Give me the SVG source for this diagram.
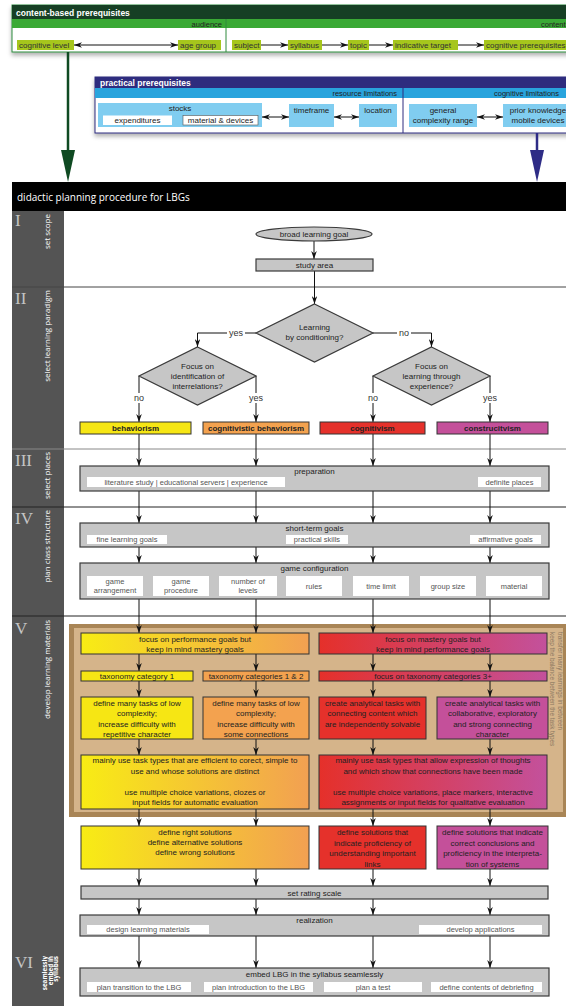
<svg xmlns="http://www.w3.org/2000/svg" width="566" height="1006" viewBox="0 0 566 1006">
<defs>
<style>
text{font-family:"Liberation Sans",Arial,sans-serif}
.t{font-size:8px;fill:#222;text-anchor:middle}
.ts{font-size:7.5px;fill:#555;text-anchor:middle}
.b{font-weight:bold}
.gray{fill:#c6c6c6;stroke:#3a3a3a;stroke-width:1.2}
.wb{fill:#fff}
.bx{stroke:#333;stroke-width:1}
.ln{fill:none;stroke:#111;stroke-width:1;marker-end:url(#ah)}
.ln2{fill:none;stroke:#111;stroke-width:1;marker-end:url(#ah);marker-start:url(#ah)}
.pl{fill:none;stroke:#111;stroke-width:1}
.side{font-family:"Open Sans",sans-serif;font-size:8px;fill:#fff;text-anchor:end}
.side2{font-family:"Open Sans",sans-serif;font-size:6.3px;font-weight:bold;fill:#fff;text-anchor:end}
.rn{font-family:"Liberation Serif",serif;font-size:17px;fill:#c4c4c4}
.hl{fill:#a6c61c}
.lb{fill:#80cdf0}
.lbl{font-size:9px;fill:#333;text-anchor:middle}
.it{font-size:8px;fill:#333}
</style>
<marker id="ah" viewBox="0 0 10 7" refX="10" refY="3.5" markerWidth="8" markerHeight="5.6" orient="auto-start-reverse" markerUnits="userSpaceOnUse"><path d="M0,0 L10,3.5 L0,7 L3,3.5 z" fill="#111"/></marker>
<filter id="sh" x="-5%" y="-20%" width="110%" height="160%"><feDropShadow dx="0" dy="3" stdDeviation="2" flood-color="#000" flood-opacity="0.3"/></filter>
<linearGradient id="gYO" x1="0" y1="0" x2="1" y2="0"><stop offset="0" stop-color="#f8ec14"/><stop offset="1" stop-color="#f2a052"/></linearGradient>
<linearGradient id="gRM" x1="0" y1="0" x2="1" y2="0"><stop offset="0" stop-color="#e5302a"/><stop offset="1" stop-color="#c3519c"/></linearGradient>
</defs>
<rect width="566" height="1006" fill="#fff"/>

<g id="content-prereq">
<rect x="12" y="5" width="560" height="47" fill="#fff" stroke="#2e8a3c" filter="url(#sh)"/>
<rect x="12" y="5" width="560" height="14" fill="#163f24"/>
<rect x="12" y="19" width="560" height="9" fill="#3aa935"/>
<line x1="226" y1="19" x2="226" y2="52" stroke="#2e8a3c"/>
<text x="16" y="15.5" font-size="8.5" font-weight="bold" fill="#fff">content-based prerequisites</text>
<text x="222" y="26.5" font-size="7.5" fill="#222" text-anchor="end">audience</text>
<text x="541" y="26.5" font-size="7.5" fill="#222">content</text>
<rect class="hl" x="17" y="40" width="57" height="10"/><text class="it" x="19" y="48">cognitive level</text>
<rect class="hl" x="178" y="40" width="43" height="10"/><text class="it" x="180" y="48">age group</text>
<rect class="hl" x="232" y="40" width="29" height="10"/><text class="it" x="234" y="48">subject</text>
<rect class="hl" x="288" y="40" width="34" height="10"/><text class="it" x="290" y="48">syllabus</text>
<rect class="hl" x="348" y="40" width="21" height="10"/><text class="it" x="350" y="48">topic</text>
<rect class="hl" x="393" y="40" width="65" height="10"/><text class="it" x="395" y="48">indicative target</text>
<rect class="hl" x="484" y="40" width="90" height="10"/><text class="it" x="486" y="48">cognitive prerequisites</text>
</g>

<g id="practical-prereq">
<rect x="95" y="77" width="480" height="56" fill="#fff" stroke="#2e2c7e" filter="url(#sh)"/>
<rect x="95" y="77" width="480" height="11" fill="#2e2c7e"/>
<rect x="95" y="88" width="480" height="10" fill="#29a4dd"/>
<line x1="403" y1="88" x2="403" y2="133" stroke="#2e2c7e"/>
<text x="100" y="86" font-size="8.5" font-weight="bold" fill="#fff">practical prerequisites</text>
<text x="397" y="96" font-size="7.5" fill="#222" text-anchor="end">resource limitations</text>
<text x="494" y="96" font-size="7.5" fill="#222">cognitive limitations</text>
<rect class="lb" x="98" y="103" width="164" height="24"/>
<text class="t" x="180" y="111" fill="#333">stocks</text>
<rect x="103" y="115.5" width="69" height="9.5" fill="#fff"/>
<text class="t" x="137.5" y="123">expenditures</text>
<rect x="183" y="115.5" width="75" height="9.5" fill="#fff" stroke="#555" stroke-width="0.6"/>
<text class="t" x="220.5" y="123">material &amp; devices</text>
<rect class="lb" x="289" y="104" width="45" height="23"/>
<text class="t" x="311.5" y="113">timeframe</text>
<rect class="lb" x="359" y="104" width="38" height="23"/>
<text class="t" x="378" y="113">location</text>
<rect class="lb" x="409" y="104" width="68" height="23"/>
<text class="t" x="443" y="113">general</text>
<text class="t" x="443" y="123">complexity range</text>
<rect class="lb" x="503" y="104" width="72" height="23"/>
<text class="t" x="538" y="113">prior knowledge</text>
<text class="t" x="538" y="123">mobile devices</text>
</g>

<g id="big-arrows">
<line x1="68" y1="52" x2="68" y2="152" stroke="#0f4a22" stroke-width="2.5"/>
<polygon points="61,150 75,150 68,182" fill="#0f4a22"/>
<line x1="537" y1="133" x2="537" y2="152" stroke="#2e2c86" stroke-width="2.5"/>
<polygon points="530,150 544,150 537,182" fill="#2e2c86"/>
</g>

<g id="frame">
<rect x="12" y="182" width="560" height="29" fill="#000"/>
<text x="17" y="201" font-family="Open Sans, sans-serif" font-size="10" fill="#fff" style="font-family:'Open Sans',sans-serif">didactic planning procedure for LBGs</text>
<rect x="12" y="211" width="52" height="795" fill="#545454"/>
<line x1="12" y1="287" x2="566" y2="287" stroke="#444"/>
<line x1="12" y1="449" x2="566" y2="449" stroke="#888"/>
<line x1="12" y1="507" x2="566" y2="507" stroke="#222"/>
<line x1="12" y1="616" x2="566" y2="616" stroke="#222"/>
<text class="rn" x="15" y="226">I</text>
<text class="rn" x="15" y="304">II</text>
<text class="rn" x="15" y="466">III</text>
<text class="rn" x="15" y="524">IV</text>
<text class="rn" x="15" y="634">V</text>
<text class="rn" x="15" y="968">VI</text>
<text class="side" transform="translate(50,214) rotate(-90)">set scope</text>
<text class="side" transform="translate(50,290) rotate(-90)">select learning paradigm</text>
<text class="side" transform="translate(50,452) rotate(-90)">select places</text>
<text class="side" transform="translate(50,510) rotate(-90)">plan class structure</text>
<text class="side" transform="translate(50,620) rotate(-90)">develop learning materials</text>
<text class="side2" transform="translate(47,956) rotate(-90)">seamlessly</text>
<text class="side2" transform="translate(52.5,956) rotate(-90)">embed in</text>
<text class="side2" transform="translate(58,956) rotate(-90)">syllabus</text>
</g>

<g id="brown-area">
<rect x="69" y="624" width="502" height="193" fill="#a98556"/>
<rect x="74" y="628" width="489" height="184" fill="#d5b48a"/>
<text transform="translate(550,632) rotate(90)" font-size="6.3" fill="#8a7760">keep the balance between the task types</text>
<text transform="translate(558,632) rotate(90)" font-size="6.3" fill="#8a7760">transfer many learnings in between</text>
</g>

<g id="connectors">
<line class="ln" x1="314" y1="241" x2="314" y2="259"/>
<line class="ln" x1="314.5" y1="271" x2="314.5" y2="304"/>
<polyline class="ln" points="256,333 197.5,333 197.5,347"/>
<polyline class="ln" points="373,333 431.5,333 431.5,347"/>
<line class="ln" x1="139" y1="376" x2="139" y2="422"/>
<line class="ln" x1="256" y1="376" x2="256" y2="422"/>
<line class="ln" x1="373" y1="376" x2="373" y2="422"/>
<line class="ln" x1="490" y1="376" x2="490" y2="422"/>
<line class="ln2" x1="74" y1="45" x2="178" y2="45"/>
<line class="ln" x1="261" y1="45" x2="288" y2="45"/>
<line class="ln" x1="322" y1="45" x2="348" y2="45"/>
<line class="ln" x1="369" y1="45" x2="393" y2="45"/>
<line class="ln" x1="458" y1="45" x2="484" y2="45"/>
<line class="ln2" x1="262" y1="117" x2="289" y2="117" stroke-width="1.5"/>
<line class="ln2" x1="334" y1="117" x2="359" y2="117" stroke-width="1.5"/>
<line class="ln2" x1="477" y1="117" x2="503" y2="117" stroke-width="1.5"/>
<line class="ln" x1="285" y1="482" x2="478" y2="482"/>
<g>
<line class="ln" x1="139" y1="434" x2="139" y2="466"/><line class="ln" x1="256" y1="434" x2="256" y2="466"/><line class="ln" x1="373" y1="434" x2="373" y2="466"/><line class="ln" x1="490" y1="434" x2="490" y2="466"/>
<line class="ln" x1="139" y1="491" x2="139" y2="523"/><line class="ln" x1="256" y1="491" x2="256" y2="523"/><line class="ln" x1="373" y1="491" x2="373" y2="523"/><line class="ln" x1="490" y1="491" x2="490" y2="523"/>
<line class="ln" x1="139" y1="547" x2="139" y2="563"/><line class="ln" x1="256" y1="547" x2="256" y2="563"/><line class="ln" x1="373" y1="547" x2="373" y2="563"/><line class="ln" x1="490" y1="547" x2="490" y2="563"/>
<line class="ln" x1="139" y1="599" x2="139" y2="633"/><line class="ln" x1="256" y1="599" x2="256" y2="633"/><line class="ln" x1="373" y1="599" x2="373" y2="633"/><line class="ln" x1="490" y1="599" x2="490" y2="633"/>
<line class="ln" x1="139" y1="654" x2="139" y2="671"/><line class="ln" x1="256" y1="654" x2="256" y2="671"/><line class="ln" x1="373" y1="654" x2="373" y2="671"/><line class="ln" x1="490" y1="654" x2="490" y2="671"/>
<line class="ln" x1="139" y1="681" x2="139" y2="697"/><line class="ln" x1="256" y1="681" x2="256" y2="697"/><line class="ln" x1="373" y1="681" x2="373" y2="697"/><line class="ln" x1="490" y1="681" x2="490" y2="697"/>
<line class="ln" x1="139" y1="739" x2="139" y2="755"/><line class="ln" x1="256" y1="739" x2="256" y2="755"/><line class="ln" x1="373" y1="739" x2="373" y2="755"/><line class="ln" x1="490" y1="739" x2="490" y2="755"/>
<line class="ln" x1="139" y1="809" x2="139" y2="826"/><line class="ln" x1="256" y1="809" x2="256" y2="826"/><line class="ln" x1="373" y1="809" x2="373" y2="826"/><line class="ln" x1="490" y1="809" x2="490" y2="826"/>
<line class="ln" x1="139" y1="869" x2="139" y2="886"/><line class="ln" x1="256" y1="869" x2="256" y2="886"/><line class="ln" x1="373" y1="869" x2="373" y2="886"/><line class="ln" x1="490" y1="869" x2="490" y2="886"/>
<line class="ln" x1="139" y1="899" x2="139" y2="915"/><line class="ln" x1="256" y1="899" x2="256" y2="915"/><line class="ln" x1="373" y1="899" x2="373" y2="915"/><line class="ln" x1="490" y1="899" x2="490" y2="915"/>
<line class="ln" x1="139" y1="936" x2="139" y2="968"/><line class="ln" x1="256" y1="936" x2="256" y2="968"/><line class="ln" x1="373" y1="936" x2="373" y2="968"/><line class="ln" x1="490" y1="936" x2="490" y2="968"/>
</g>
<rect x="227" y="328" width="18" height="10" fill="#fff"/><text class="lbl" x="236" y="336">yes</text>
<rect x="397" y="328" width="14" height="10" fill="#fff"/><text class="lbl" x="404" y="336">no</text>
<rect x="132" y="393" width="14" height="10" fill="#fff"/><text class="lbl" x="139" y="401">no</text>
<rect x="247" y="393" width="18" height="10" fill="#fff"/><text class="lbl" x="256" y="401">yes</text>
<rect x="366" y="393" width="14" height="10" fill="#fff"/><text class="lbl" x="373" y="401">no</text>
<rect x="481" y="393" width="18" height="10" fill="#fff"/><text class="lbl" x="490" y="401">yes</text>
</g>

<g id="broad-goal"><ellipse cx="314" cy="234" rx="58" ry="7" class="gray"/><text class="t" x="314" y="237">broad learning goal</text></g>
<g id="study-area"><rect class="gray" x="256" y="259" width="117" height="12"/><text class="t" x="314.5" y="268">study area</text></g>
<g id="d-conditioning"><polygon class="gray" points="314.5,304 373,333 314.5,362 256,333"/><text class="t" x="314.5" y="330">Learning</text><text class="t" x="314.5" y="340">by conditioning?</text></g>
<g id="d-interrelations"><polygon class="gray" points="197.5,347 256,376 197.5,405 139,376"/><text class="t" x="197.5" y="369">Focus on</text><text class="t" x="197.5" y="379">identification of</text><text class="t" x="197.5" y="389">interrelations?</text></g>
<g id="d-experience"><polygon class="gray" points="431.5,347 490,376 431.5,405 373,376"/><text class="t" x="431.5" y="369">Focus on</text><text class="t" x="431.5" y="379">learning through</text><text class="t" x="431.5" y="389">experience?</text></g>

<g id="behaviorism"><rect class="bx" x="80" y="422" width="111" height="12" fill="#f6e614"/><text class="t b" x="135.5" y="431">behaviorism</text></g>
<g id="cog-behaviorism"><rect class="bx" x="203" y="422" width="106" height="12" fill="#f3a24f"/><text class="t b" x="256" y="431" font-size="7.4">cognitivistic behaviorism</text></g>
<g id="cognitivism"><rect class="bx" x="320" y="422" width="105" height="12" fill="#e5312b"/><text class="t b" x="372.5" y="431">cognitivism</text></g>
<g id="constructivism"><rect class="bx" x="437" y="422" width="111" height="12" fill="#c4509a"/><text class="t b" x="492.5" y="431">construcitvism</text></g>

<g id="preparation">
<rect class="gray" x="80" y="466" width="469" height="25"/>
<text class="t" x="314.5" y="474">preparation</text>
<rect class="wb" x="87" y="477" width="198" height="10"/><text class="ts" x="186" y="485">literature study | educational servers | experience</text>
<rect class="wb" x="478" y="477" width="63" height="10"/><text class="ts" x="509.5" y="485">definite places</text>
</g>

<g id="short-term">
<rect class="gray" x="80" y="523" width="469" height="24"/>
<text class="t" x="314.5" y="531">short-term goals</text>
<rect class="wb" x="87" y="535" width="80" height="9"/><text class="ts" x="127" y="542">fine learning goals</text>
<rect class="wb" x="286" y="535" width="62" height="9"/><text class="ts" x="317" y="542">practical skills</text>
<rect class="wb" x="470" y="535" width="71" height="9"/><text class="ts" x="505.5" y="542">affirmative goals</text>
</g>

<g id="game-config">
<rect class="gray" x="80" y="563" width="469" height="36"/>
<text class="t" x="314.5" y="571">game configuration</text>
<rect class="wb" x="87" y="576" width="56" height="20"/><text class="ts" x="115" y="584">game</text><text class="ts" x="115" y="593">arrangement</text>
<rect class="wb" x="153" y="576" width="56" height="20"/><text class="ts" x="181" y="584">game</text><text class="ts" x="181" y="593">procedure</text>
<rect class="wb" x="219" y="576" width="58" height="20"/><text class="ts" x="248" y="584">number of</text><text class="ts" x="248" y="593">levels</text>
<rect class="wb" x="286" y="576" width="56" height="20"/><text class="ts" x="314" y="589">rules</text>
<rect class="wb" x="353" y="576" width="56" height="20"/><text class="ts" x="381" y="589">time limit</text>
<rect class="wb" x="420" y="576" width="56" height="20"/><text class="ts" x="448" y="589">group size</text>
<rect class="wb" x="486" y="576" width="56" height="20"/><text class="ts" x="514" y="589">material</text>
</g>

<g id="focus-performance"><rect class="bx" x="81" y="633" width="228" height="21" fill="url(#gYO)"/><text class="t" x="195" y="642">focus on performance goals but</text><text class="t" x="195" y="651.5">keep in mind mastery goals</text></g>
<g id="focus-mastery"><rect class="bx" x="319" y="633" width="228" height="21" fill="url(#gRM)"/><text class="t" x="433" y="642">focus on mastery goals but</text><text class="t" x="433" y="651.5">keep in mind performance goals</text></g>

<g id="tax1"><rect class="bx" x="81" y="671" width="112" height="10" fill="#f6e614"/><text class="t" x="137" y="679" font-size="7.5">taxonomy category 1</text></g>
<g id="tax12"><rect class="bx" x="203" y="671" width="106" height="10" fill="#f3a24f"/><text class="t" x="256" y="679" font-size="7.5">taxonomy categories 1 &amp; 2</text></g>
<g id="tax3"><rect class="bx" x="319" y="671" width="228" height="10" fill="url(#gRM)"/><text class="t" x="433" y="679" font-size="7.5">focus on taxonomy categories 3+</text></g>

<g id="task-yellow"><rect class="bx" x="81" y="697" width="112" height="42" fill="#f6e614"/><text class="t" x="137" y="706">define many tasks of low</text><text class="t" x="137" y="716">complexity;</text><text class="t" x="137" y="726.5">increase difficulty with</text><text class="t" x="137" y="737">repetitive character</text></g>
<g id="task-orange"><rect class="bx" x="203" y="697" width="106" height="42" fill="#f3a24f"/><text class="t" x="256" y="706">define many tasks of low</text><text class="t" x="256" y="716">complexity;</text><text class="t" x="256" y="726.5">increase difficulty with</text><text class="t" x="256" y="737">some connections</text></g>
<g id="task-red"><rect class="bx" x="319" y="697" width="107" height="42" fill="#e5312b"/><text class="t" x="372.5" y="706">create analytical tasks with</text><text class="t" x="372.5" y="716">connecting content which</text><text class="t" x="372.5" y="726.5">are independently solvable</text></g>
<g id="task-magenta"><rect class="bx" x="437" y="697" width="111" height="42" fill="#c4509a"/><text class="t" x="492.5" y="706">create analytical tasks with</text><text class="t" x="492.5" y="716">collaborative, exploratory</text><text class="t" x="492.5" y="726.5">and strong connecting</text><text class="t" x="492.5" y="737">character</text></g>

<g id="types-left"><rect class="bx" x="81" y="755" width="228" height="54" fill="url(#gYO)"/><text class="t" x="195" y="763">mainly use task types that are efficient to corect, simple to</text><text class="t" x="195" y="773.5">use and whose solutions are distinct</text><text class="t" x="195" y="795">use multiple choice variations, clozes or</text><text class="t" x="195" y="805">input fields for automatic evaluation</text></g>
<g id="types-right"><rect class="bx" x="319" y="755" width="228" height="54" fill="url(#gRM)"/><text class="t" x="433" y="763">mainly use task types that allow expression of thoughts</text><text class="t" x="433" y="773.5">and which show that connections have been made</text><text class="t" x="433" y="795">use multiple choice variations, place markers, interactive</text><text class="t" x="433" y="805">assignments or input fields for qualitative evaluation</text></g>

<g id="def-left"><rect class="bx" x="81" y="826" width="228" height="43" fill="url(#gYO)"/><text class="t" x="195" y="835">define right solutions</text><text class="t" x="195" y="845">define alternative solutions</text><text class="t" x="195" y="855">define wrong solutions</text></g>
<g id="def-red"><rect class="bx" x="319" y="826" width="107" height="43" fill="#e5312b"/><text class="t" x="372.5" y="835">define solutions that</text><text class="t" x="372.5" y="845.5">indicate proficiency of</text><text class="t" x="372.5" y="856">understanding important</text><text class="t" x="372.5" y="866.5">links</text></g>
<g id="def-magenta"><rect class="bx" x="437" y="826" width="111" height="43" fill="#c4509a"/><text class="t" x="492.5" y="835">define solutions that indicate</text><text class="t" x="492.5" y="845.5">correct conclusions and</text><text class="t" x="492.5" y="856">proficiency in the interpreta-</text><text class="t" x="492.5" y="866.5">tion of systems</text></g>

<g id="rating"><rect class="gray" x="81" y="886" width="467" height="13"/><text class="t" x="314.5" y="895.5">set rating scale</text></g>

<g id="realization">
<rect class="gray" x="80" y="915" width="469" height="21"/>
<text class="t" x="314.5" y="923">realization</text>
<rect class="wb" x="87" y="925" width="122" height="9"/><text class="ts" x="148" y="932">design learning materials</text>
<rect class="wb" x="419" y="925" width="123" height="9"/><text class="ts" x="480.5" y="932">develop applications</text>
</g>

<g id="embed">
<rect class="gray" x="80" y="968" width="469" height="28"/>
<text class="t" x="314.5" y="976.5">embed LBG in the syllabus seamlessly</text>
<rect class="wb" x="87" y="982" width="104" height="10"/><text class="ts" x="139" y="990">plan transition to the LBG</text>
<rect class="wb" x="204" y="982" width="109" height="10"/><text class="ts" x="258.5" y="990">plan introduction to the LBG</text>
<rect class="wb" x="324" y="982" width="98" height="10"/><text class="ts" x="373" y="990">plan a test</text>
<rect class="wb" x="431" y="982" width="111" height="10"/><text class="ts" x="486.5" y="990">define contents of debriefing</text>
</g>
</svg>
